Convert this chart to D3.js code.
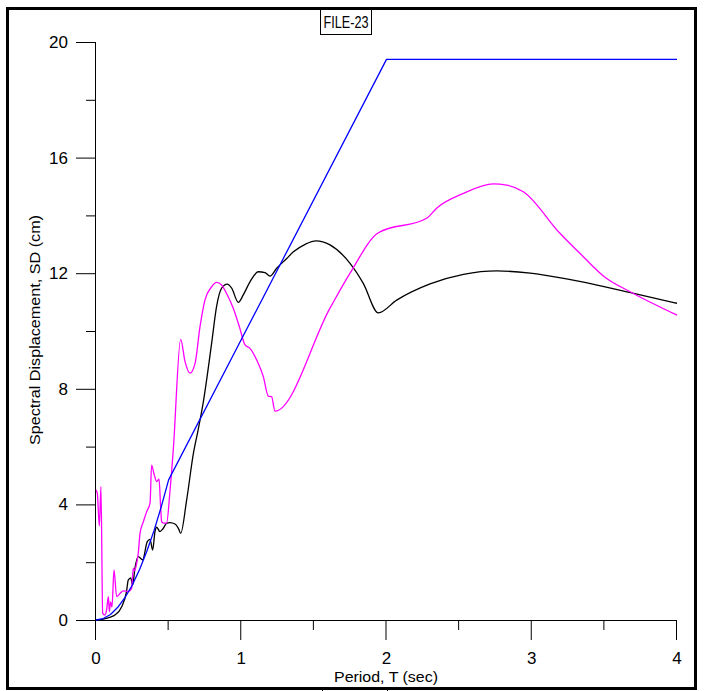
<!DOCTYPE html>
<html><head><meta charset="utf-8">
<script src="https://cdn.jsdelivr.net/npm/d3@7"></script>
<style>body{margin:0;background:#fff;} svg{display:block;font-family:"Liberation Sans",Arial,sans-serif;}</style>
</head><body>
<svg id="c" width="704" height="691"></svg>
<script>
const chartTitle = "FILE-23";
const xTicks = [0,1,2,3,4];
const yTicks = [0,4,8,12,16,20];
const xMinor = [0.5,1.5,2.5,3.5];
const yMinor = [2,6,10,14,18];

// Design (target) spectrum - blue
const blueT  = [0,0.05,0.1,0.15,0.2,0.25,0.3,0.35,0.4,0.45,0.5,2.0,4.0];
const blueSD = [0,0.05,0.19,0.44,0.78,1.21,1.75,2.38,3.10,3.93,4.85,19.4,19.4];

// Record spectrum - black
const blackT  = [0,0.05,0.1,0.13,0.177,0.21,0.222,0.239,0.252,0.268,0.291,0.321,0.353,0.372,0.39,0.406,0.418,0.44,0.46,0.487,0.509,0.544,0.567,0.583,0.624,0.67,0.704,0.739,0.796,0.83,0.865,0.904,0.934,0.98,1.014,1.06,1.118,1.163,1.198,1.244,1.313,1.359,1.44,1.515,1.611,1.749,1.84,1.944,2.07,2.30,2.53,2.76,2.99,3.22,3.45,3.68,4.0];
const blackSD = [0,0.03,0.1,0.17,0.46,0.98,1.38,1.46,1.21,1.79,2.19,2.08,2.71,2.79,2.42,3.06,3.21,3.06,3.15,3.35,3.37,3.32,3.17,3.0,4.15,5.75,6.6,7.55,9.57,10.84,11.48,11.62,11.48,10.99,11.25,11.7,12.05,12.02,11.9,12.17,12.51,12.74,13.0,13.12,12.98,12.34,11.65,10.63,11.07,11.63,11.96,12.08,12.0,11.82,11.59,11.33,10.96];

// Record spectrum - magenta
const magT  = [0,0.009,0.023,0.034,0.046,0.062,0.073,0.085,0.092,0.1,0.11,0.124,0.142,0.165,0.188,0.223,0.245,0.257,0.265,0.28,0.291,0.303,0.326,0.349,0.372,0.383,0.401,0.418,0.434,0.445,0.452,0.468,0.486,0.509,0.532,0.583,0.613,0.647,0.682,0.716,0.75,0.796,0.83,0.865,0.899,0.945,0.987,1.026,1.06,1.106,1.152,1.186,1.209,1.232,1.611,1.749,1.944,2.276,2.345,2.53,2.735,2.827,2.942,3.194,3.355,3.504,3.677,4.0];
const magSD = [4.5,4.38,3.25,4.61,0.23,0.17,0.35,0.81,0.29,0.63,0.45,1.73,0.81,0.92,1.01,0.98,1.09,1.79,1.7,1.96,2.31,3.0,3.40,3.75,4.04,5.36,5.02,4.79,4.87,3.92,3.40,3.35,3.35,4.44,5.88,9.71,8.94,8.54,8.88,10.15,11.07,11.53,11.68,11.59,11.3,10.79,10.15,9.52,9.4,9.0,8.42,7.75,7.73,7.23,10.79,12.0,13.4,13.9,14.25,14.76,15.09,15.05,14.82,13.38,12.57,11.86,11.36,10.55];

const svg = d3.select("#c");
const x = d3.scaleLinear().domain([0,4]).range([96,677]);
const y = d3.scaleLinear().domain([0,20]).range([620,42]);

// outer frame
svg.append("rect").attr("x",7.5).attr("y",8.5).attr("width",688).attr("height",680)
  .attr("fill","none").attr("stroke","#000").attr("stroke-width",3);
svg.append("line").attr("x1",322.5).attr("x2",322.5).attr("y1",688).attr("y2",691).attr("stroke","#000");
svg.append("line").attr("x1",387.5).attr("x2",387.5).attr("y1",688).attr("y2",691).attr("stroke","#000");

// title box
const tb = svg.append("g");
tb.append("rect").attr("x",320.5).attr("y",9.5).attr("width",51).attr("height",25)
  .attr("fill","#fff").attr("stroke","#000").attr("stroke-width",1);
tb.append("text").attr("x",346).attr("y",28).attr("text-anchor","middle")
  .attr("font-size",16).attr("textLength",45).attr("lengthAdjust","spacingAndGlyphs").text(chartTitle);

const ax = svg.append("g").attr("stroke","#000").attr("stroke-width",1);
ax.append("line").attr("x1",x(0)).attr("x2",x(4)).attr("y1",y(0)+0.5).attr("y2",y(0)+0.5);
ax.append("line").attr("x1",x(0)-0.5).attr("x2",x(0)-0.5).attr("y1",y(0)).attr("y2",y(20));
xTicks.forEach(t=>ax.append("line").attr("x1",x(t)-0.5).attr("x2",x(t)-0.5).attr("y1",y(0)).attr("y2",y(0)+20));
xMinor.forEach(t=>ax.append("line").attr("x1",x(t)-0.5).attr("x2",x(t)-0.5).attr("y1",y(0)).attr("y2",y(0)+10));
yTicks.forEach(t=>ax.append("line").attr("x1",x(0)-20).attr("x2",x(0)).attr("y1",y(t)+0.5).attr("y2",y(t)+0.5));
yMinor.forEach(t=>ax.append("line").attr("x1",x(0)-10).attr("x2",x(0)).attr("y1",y(t)+0.5).attr("y2",y(t)+0.5));

const lab = svg.append("g").attr("font-size",17).attr("fill","#000");
xTicks.forEach(t=>lab.append("text").attr("x",x(t)).attr("y",664).attr("text-anchor","middle").text(t));
yTicks.forEach(t=>lab.append("text").attr("x",68).attr("y",y(t)+6).attr("text-anchor","end").text(t));

svg.append("text").attr("x",386).attr("y",682).attr("text-anchor","middle").attr("font-size",15)
  .attr("textLength",104).attr("lengthAdjust","spacingAndGlyphs").text("Period, T (sec)");
svg.append("text").attr("transform","translate(40,330) rotate(-90)").attr("text-anchor","middle").attr("font-size",15)
  .attr("textLength",230).attr("lengthAdjust","spacingAndGlyphs").text("Spectral Displacement, SD (cm)");

const smooth = d3.line().x(d=>x(d[0])).y(d=>y(d[1])).curve(d3.curveMonotoneX);
const straight = d3.line().x(d=>x(d[0])).y(d=>y(d[1])).curve(d3.curveLinear);
const plot = svg.append("g").attr("fill","none").attr("stroke-width",1.3).attr("stroke-linejoin","round");
plot.append("path").datum(blackT.map((t,i)=>[t,blackSD[i]])).attr("stroke","#000").attr("d",smooth);
plot.append("path").datum(magT.map((t,i)=>[t,magSD[i]])).attr("stroke","#ff00ff").attr("d",smooth);
plot.append("path").datum(blueT.map((t,i)=>[t,blueSD[i]])).attr("stroke","#0000ff").attr("d",straight);
</script>
</body></html>
